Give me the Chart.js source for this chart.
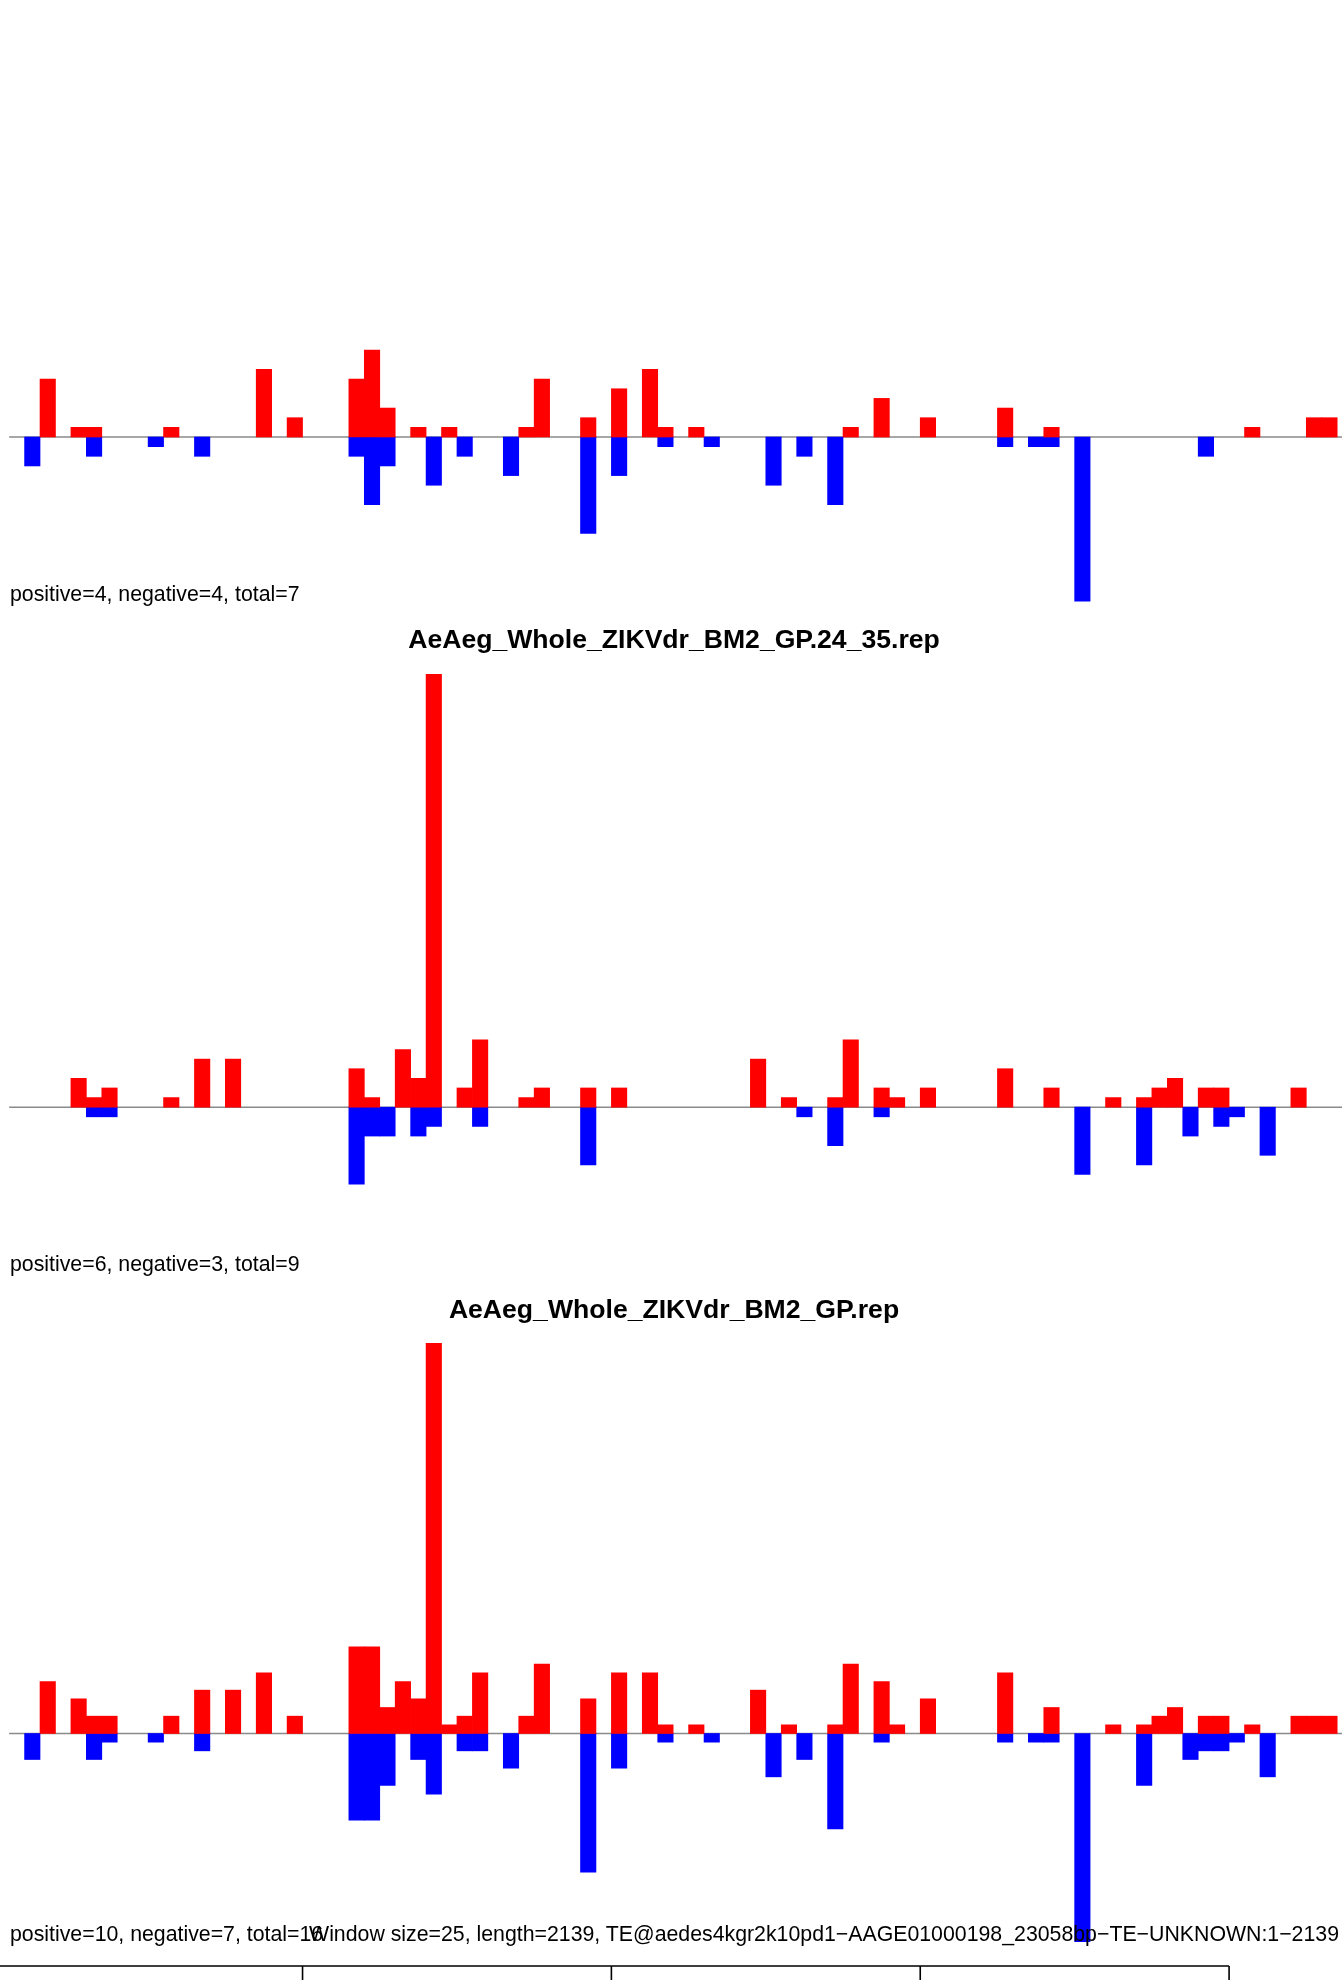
<!DOCTYPE html>
<html>
<head>
<meta charset="utf-8">
<title>TE coverage – aedes4kgr2k10pd1</title>
<script src="https://cdn.jsdelivr.net/npm/chart.js@4.4.1/dist/chart.umd.min.js"></script>
<style>
  html, body { margin: 0; padding: 0; background: #fff; overflow: hidden; }
  #page {
    position: relative; width: 1342px; height: 1980px;
    font-family: "Liberation Sans", Arial, Helvetica, sans-serif; color: #000;
  }
  canvas { position: absolute; left: 0; z-index: 1; }
  .txt   { position: absolute; white-space: nowrap; line-height: 1; z-index: 2; }
  .stat  { font-size: 21.3px; }
  .title { font-size: 26.6px; font-weight: bold; }
</style>
</head>
<body>
<div id="page">
  <canvas id="panel-1" width="1342" height="640"></canvas>
  <canvas id="panel-2" width="1342" height="640"></canvas>
  <canvas id="panel-3" width="1342" height="660"></canvas>
</div>

<script>
// coverage.js – per-window read counts on the TE, sense (red) vs antisense (blue)

/* ──────────────────────────────────────────────────────────────
   Data (one value per 25 bp window, window 0 = 0–25 bp)
   ────────────────────────────────────────────────────────────── */
const WINDOW_SIZE = 25;

const p1Pos = [
  0, 0, 0, 6, 0, 1, 1, 0, 0, 0,
  0, 1, 0, 0, 0, 0, 0, 7, 0, 2,
  0, 0, 0, 6, 9, 3, 0, 1, 0, 1,
  0, 0, 0, 0, 1, 6, 0, 0, 2, 0,
  5, 0, 7, 1, 0, 1, 0, 0, 0, 0,
  0, 0, 0, 0, 0, 1, 0, 4, 0, 0,
  2, 0, 0, 0, 0, 3, 0, 0, 1, 0,
  0, 0, 0, 0, 0, 0, 0, 0, 0, 0,
  0, 1, 0, 0, 0, 2, 2,
];
const p1Neg = [
  0, 0, -3, 0, 0, 0, -2, 0, 0, 0,
  -1, 0, 0, -2, 0, 0, 0, 0, 0, 0,
  0, 0, 0, -2, -7, -3, 0, 0, -5, 0,
  -2, 0, 0, -4, 0, 0, 0, 0, -10, 0,
  -4, 0, 0, -1, 0, 0, -1, 0, 0, 0,
  -5, 0, -2, 0, -7, 0, 0, 0, 0, 0,
  0, 0, 0, 0, 0, -1, 0, -1, -1, 0,
  -17, 0, 0, 0, 0, 0, 0, 0, -2, 0,
  0, 0, 0, 0, 0, 0, 0,
];

const p2Pos = [
  0, 0, 0, 0, 0, 3, 1, 2, 0, 0,
  0, 1, 0, 5, 0, 5, 0, 0, 0, 0,
  0, 0, 0, 4, 1, 0, 6, 3, 45, 0,
  2, 7, 0, 0, 1, 2, 0, 0, 2, 0,
  2, 0, 0, 0, 0, 0, 0, 0, 0, 5,
  0, 1, 0, 0, 1, 7, 0, 2, 1, 0,
  2, 0, 0, 0, 0, 4, 0, 0, 2, 0,
  0, 0, 1, 0, 1, 2, 3, 0, 2, 2,
  0, 0, 0, 0, 2, 0, 0,
];
const p2Neg = [
  0, 0, 0, 0, 0, 0, -1, -1, 0, 0,
  0, 0, 0, 0, 0, 0, 0, 0, 0, 0,
  0, 0, 0, -8, -3, -3, 0, -3, -2, 0,
  0, -2, 0, 0, 0, 0, 0, 0, -6, 0,
  0, 0, 0, 0, 0, 0, 0, 0, 0, 0,
  0, 0, -1, 0, -4, 0, 0, -1, 0, 0,
  0, 0, 0, 0, 0, 0, 0, 0, 0, 0,
  -7, 0, 0, 0, -6, 0, 0, -3, 0, -2,
  -1, 0, -5, 0, 0, 0, 0,
];

const p3Pos = [
  0, 0, 0, 6, 0, 4, 2, 2, 0, 0,
  0, 2, 0, 5, 0, 5, 0, 7, 0, 2,
  0, 0, 0, 10, 10, 3, 6, 4, 45, 1,
  2, 7, 0, 0, 2, 8, 0, 0, 4, 0,
  7, 0, 7, 1, 0, 1, 0, 0, 0, 5,
  0, 1, 0, 0, 1, 8, 0, 6, 1, 0,
  4, 0, 0, 0, 0, 7, 0, 0, 3, 0,
  0, 0, 1, 0, 1, 2, 3, 0, 2, 2,
  0, 1, 0, 0, 2, 2, 2,
];
const p3Neg = [
  0, 0, -3, 0, 0, 0, -3, -1, 0, 0,
  -1, 0, 0, -2, 0, 0, 0, 0, 0, 0,
  0, 0, 0, -10, -10, -6, 0, -3, -7, 0,
  -2, -2, 0, -4, 0, 0, 0, 0, -16, 0,
  -4, 0, 0, -1, 0, 0, -1, 0, 0, 0,
  -5, 0, -3, 0, -11, 0, 0, -1, 0, 0,
  0, 0, 0, 0, 0, -1, 0, -1, -1, 0,
  -24, 0, 0, 0, -6, 0, 0, -3, -2, -2,
  -1, 0, -5, 0, 0, 0, 0,
];

const axisTicks = [0, 500, 1000, 1500, 2000];

const titles = [
  null,
  "AeAeg_Whole_ZIKVdr_BM2_GP.24_35.rep",
  "AeAeg_Whole_ZIKVdr_BM2_GP.rep",
];
const stats = [
  "positive=4, negative=4, total=7",
  "positive=6, negative=3, total=9",
  "positive=10, negative=7, total=16",
];
const footer = "Window size=25, length=2139, TE@aedes4kgr2k10pd1\u2212AAGE01000198_23058bp\u2212TE\u2212UNKNOWN:1\u22122139";

/* ──────────────────────────────────────────────────────────────
   Layout (page pixels)
   ────────────────────────────────────────────────────────────── */
const X_MIN = 10.2, X_MAX = 2182.8;      // bp shown across the page width
const ZERO_FROM = 25;                      // zero line starts at this bp
const AXIS_Y = 1966;                       // bottom axis line

const panels = [
  { id: "panel-1", top: 0,    height: 640, zeroY: 437,    unit: 9.65, pos: p1Pos, neg: p1Neg, titleBase: null,   statBase: 601.8 },
  { id: "panel-2", top: 650,  height: 640, zeroY: 1107.2, unit: 9.62, pos: p2Pos, neg: p2Neg, titleBase: 648.3,  statBase: 1272.2 },
  { id: "panel-3", top: 1320, height: 660, zeroY: 1733.5, unit: 8.67, pos: p3Pos, neg: p3Neg, titleBase: 1318.6, statBase: 1942.4 },
];

/* ──────────────────────────────────────────────────────────────
   Plugins: grey zero line, bottom bp axis
   ────────────────────────────────────────────────────────────── */
const zeroLinePlugin = {
  id: "zeroLine",
  beforeDatasetsDraw(chart) {
    const { ctx, chartArea, scales: { x, y } } = chart;
    const yy = y.getPixelForValue(0);
    ctx.save();
    ctx.strokeStyle = "#8a8a8a";
    ctx.lineWidth = 1.6;
    ctx.beginPath();
    ctx.moveTo(x.getPixelForValue(ZERO_FROM), yy);
    ctx.lineTo(chartArea.right, yy);
    ctx.stroke();
    ctx.restore();
  },
};

function bottomAxisPlugin(pageTop) {
  return {
    id: "bottomAxis",
    afterDraw(chart) {
      const { ctx, scales: { x } } = chart;
      const yy = AXIS_Y - pageTop;
      ctx.save();
      ctx.strokeStyle = "#000";
      ctx.lineWidth = 1.6;
      ctx.beginPath();
      ctx.moveTo(x.getPixelForValue(axisTicks[0]), yy);
      ctx.lineTo(x.getPixelForValue(axisTicks[axisTicks.length - 1]), yy);
      axisTicks.forEach(t => {
        const xx = x.getPixelForValue(t);
        ctx.moveTo(xx, yy);
        ctx.lineTo(xx, yy + 20);
      });
      ctx.stroke();
      ctx.restore();
    },
  };
}

/* ──────────────────────────────────────────────────────────────
   Build one panel chart
   ────────────────────────────────────────────────────────────── */
// empty windows are left out (null) so no hairline bar is drawn for them
function toPoints(values) {
  return values.map((v, i) => ({ x: i * WINDOW_SIZE + WINDOW_SIZE / 2, y: v === 0 ? null : v }));
}

function renderPanel(p, withAxis) {
  const canvas = document.getElementById(p.id);
  canvas.style.top = p.top + "px";

  const yMax = (p.zeroY - p.top) / p.unit;
  const yMin = -(p.top + p.height - p.zeroY) / p.unit;

  const barStyle = {
    grouped: false,
    barPercentage: 1,
    categoryPercentage: 1,
    borderWidth: 0,
  };

  return new Chart(canvas.getContext("2d"), {
    type: "bar",
    data: {
      datasets: [
        { label: "positive", data: toPoints(p.pos), backgroundColor: "#ff0000", ...barStyle },
        { label: "negative", data: toPoints(p.neg), backgroundColor: "#0000ff", ...barStyle },
      ],
    },
    options: {
      responsive: false,
      animation: false,
      events: [],
      layout: { padding: 0 },
      plugins: { legend: { display: false }, tooltip: { enabled: false } },
      scales: {
        x: { type: "linear", min: X_MIN, max: X_MAX, offset: false, display: false },
        y: { type: "linear", min: yMin, max: yMax, display: false },
      },
    },
    plugins: withAxis ? [zeroLinePlugin, bottomAxisPlugin(p.top)] : [zeroLinePlugin],
  });
}

/* ──────────────────────────────────────────────────────────────
   Text labels (positioned by baseline)
   ────────────────────────────────────────────────────────────── */
const ASCENT = 0.8465;   // baseline offset for line-height:1 in Liberation Sans

function placeText(text, cls, size, baseline, x, align) {
  const el = document.createElement("div");
  el.className = "txt " + cls;
  el.textContent = text;
  el.style.top = (baseline - ASCENT * size) + "px";
  if (align === "center") {
    el.style.left = x + "px";
    el.style.transform = "translateX(-50%)";
  } else if (align === "right") {
    el.style.right = (1342 - x) + "px";
  } else {
    el.style.left = x + "px";
  }
  document.getElementById("page").appendChild(el);
}

/* ──────────────────────────────────────────────────────────────
   Init
   ────────────────────────────────────────────────────────────── */
panels.forEach((p, i) => {
  renderPanel(p, i === panels.length - 1);
  if (titles[i]) placeText(titles[i], "title", 26.6, p.titleBase, 674, "center");
  placeText(stats[i], "stat", 21.3, p.statBase, 10, "left");
});
placeText(footer, "stat", 21.3, panels[2].statBase, 1339, "right");
</script>
</body>
</html>
